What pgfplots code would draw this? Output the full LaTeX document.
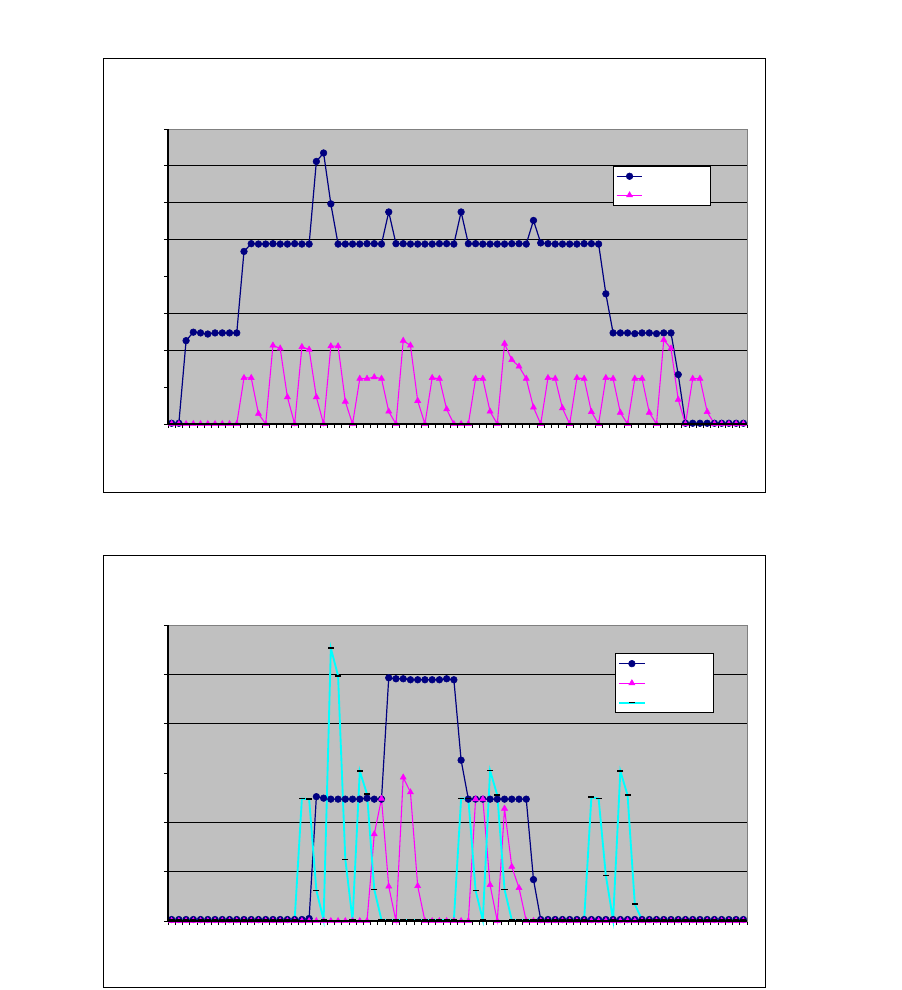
\documentclass[border=0pt]{standalone}
\usepackage{pgfplots}
\pgfplotsset{compat=1.18}
\definecolor{plotbg}{RGB}{192,192,192}
\definecolor{xnavy}{RGB}{0,0,128}
\definecolor{xmag}{RGB}{255,0,255}
\definecolor{xcyan}{RGB}{0,255,255}
\definecolor{xborder}{RGB}{128,128,128}
\pgfplotsset{
  excelax/.style={
    scale only axis,
    width=434.25pt,
    xmin=-0.5, xmax=79.5,
    ymin=0,
    axis background/.style={fill=plotbg},
    axis line style={draw=xborder, line width=0.6pt},
    tick pos=left,
    xtick={-0.5,0.5,...,79.5},
    xticklabels={}, yticklabels={},
    tick align=outside,
    major tick length=3pt,
    tick style={black, line width=0.6pt},
    extra y tick labels={},
    extra y tick style={grid=major, major tick length=0pt},
    major grid style={black, line width=0.8pt},
    clip=false,
    legend cell align=left,
    legend image code/.code={\draw[mark repeat=2,mark phase=2] plot coordinates {(0cm,0cm) (0.34cm,0cm) (0.68cm,0cm)};},
    after end axis/.code={\draw[black, line width=0.8pt] (rel axis cs:0,1) -- (rel axis cs:0,0) -- (rel axis cs:1,0);},
  },
  sblue/.style={color=xnavy, line width=0.9pt, mark=*, mark size=2.5pt, mark options={fill=xnavy, draw=xnavy, line width=0.4pt}},
  smag/.style={color=xmag, line width=0.8pt, mark=triangle*, mark size=2.6pt, mark options={fill=xmag, draw=xmag, line width=0.4pt}},
  scyan/.style={color=xcyan, line width=1.4pt, mark=-, mark size=2.3pt, mark options={draw=black, line width=1.1pt}},
}
\newcommand{\lgent}{\hspace*{48.5pt}}
\begin{document}
\begin{tikzpicture}
\path (0,0) rectangle (675.75pt,742.5pt);
\draw[black, line width=0.75pt, fill=white] (77.25pt,372.75pt) rectangle (573.75pt,698.25pt);
\draw[black, line width=0.75pt, fill=white] (77.25pt,1.5pt) rectangle (573.75pt,325.5pt);
% top chart
\begin{axis}[excelax,
  at={(126pt,424.5pt)}, anchor=south west,
  height=221.25pt,
  ymax=8, ytick={0,...,8},
  extra y ticks={2,3,5,6,7},
  legend style={at={(0.7686,0.8746)}, anchor=north west, draw=black, fill=white, line width=0.6pt,
    inner xsep=2pt, inner ysep=0.3pt, row sep=0pt, nodes={inner sep=0pt, text height=8.6pt, text depth=5.6pt}},
]
\addplot[sblue] coordinates {
(0,0.02)(1,0.02)(2,2.26)(3,2.49)(4,2.47)(5,2.44)(6,2.47)(7,2.47)(8,2.47)(9,2.47)
(10,4.68)(11,4.89)(12,4.88)(13,4.88)(14,4.89)(15,4.88)(16,4.88)(17,4.89)(18,4.88)(19,4.88)
(20,7.12)(21,7.35)(22,5.97)(23,4.88)(24,4.88)(25,4.88)(26,4.88)(27,4.89)(28,4.89)(29,4.88)
(30,5.75)(31,4.89)(32,4.89)(33,4.88)(34,4.88)(35,4.88)(36,4.88)(37,4.89)(38,4.89)(39,4.88)
(40,5.75)(41,4.89)(42,4.89)(43,4.88)(44,4.88)(45,4.88)(46,4.88)(47,4.89)(48,4.89)(49,4.88)
(50,5.52)(51,4.91)(52,4.89)(53,4.88)(54,4.88)(55,4.88)(56,4.88)(57,4.89)(58,4.89)(59,4.88)
(60,3.53)(61,2.47)(62,2.47)(63,2.47)(64,2.45)(65,2.47)(66,2.47)(67,2.45)(68,2.47)(69,2.47)
(70,1.34)(71,0.02)(72,0.02)(73,0.02)(74,0.02)(75,0.02)(76,0.02)(77,0.02)(78,0.02)(79,0.02)
};
\addplot[smag] coordinates {
(0,0)(1,0)(2,0)(3,0)(4,0)(5,0)(6,0)(7,0)(8,0)(9,0)
(10,1.25)(11,1.25)(12,0.28)(13,0)(14,2.13)(15,2.05)(16,0.73)(17,0)(18,2.09)(19,2.02)
(20,0.73)(21,0)(22,2.11)(23,2.11)(24,0.61)(25,0)(26,1.23)(27,1.23)(28,1.27)(29,1.23)
(30,0.34)(31,0)(32,2.26)(33,2.13)(34,0.63)(35,0)(36,1.25)(37,1.23)(38,0.40)(39,0)
(40,0)(41,0)(42,1.23)(43,1.23)(44,0.34)(45,0)(46,2.18)(47,1.74)(48,1.56)(49,1.23)
(50,0.45)(51,0)(52,1.25)(53,1.23)(54,0.43)(55,0)(56,1.25)(57,1.23)(58,0.33)(59,0)
(60,1.25)(61,1.23)(62,0.31)(63,0)(64,1.23)(65,1.23)(66,0.31)(67,0)(68,2.28)(69,2.05)
(70,0.66)(71,0)(72,1.23)(73,1.23)(74,0.33)(75,0)(76,0)(77,0)(78,0)(79,0)
};
\legend{\lgent,\lgent}
\end{axis}
% bottom chart
\begin{axis}[excelax,
  at={(126pt,51.75pt)}, anchor=south west,
  height=222pt,
  ymax=6, ytick={0,...,6},
  extra y ticks={1,2,4,5},
  legend style={at={(0.772,0.905)}, anchor=north west, draw=black, fill=white, line width=0.6pt,
    inner xsep=2pt, inner ysep=0.3pt, row sep=0pt, nodes={inner sep=0pt, text height=8.8pt, text depth=5.8pt}},
]
\addplot[sblue] coordinates {
(0,0.03)(1,0.03)(2,0.03)(3,0.03)(4,0.03)(5,0.03)(6,0.03)(7,0.03)(8,0.03)(9,0.03)
(10,0.03)(11,0.03)(12,0.03)(13,0.03)(14,0.03)(15,0.03)(16,0.03)(17,0.03)(18,0.03)(19,0.05)
(20,2.52)(21,2.49)(22,2.47)(23,2.47)(24,2.47)(25,2.47)(26,2.47)(27,2.49)(28,2.47)(29,2.47)
(30,4.93)(31,4.91)(32,4.91)(33,4.89)(34,4.89)(35,4.89)(36,4.89)(37,4.89)(38,4.91)(39,4.89)
(40,3.26)(41,2.47)(42,2.47)(43,2.47)(44,2.47)(45,2.47)(46,2.47)(47,2.47)(48,2.47)(49,2.47)
(50,0.84)(51,0.03)(52,0.03)(53,0.03)(54,0.03)(55,0.03)(56,0.03)(57,0.03)(58,0.03)(59,0.03)
(60,0.03)(61,0.03)(62,0.03)(63,0.03)(64,0.03)(65,0.03)(66,0.03)(67,0.03)(68,0.03)(69,0.03)
(70,0.03)(71,0.03)(72,0.03)(73,0.03)(74,0.03)(75,0.03)(76,0.03)(77,0.03)(78,0.03)(79,0.03)
};
\addplot[smag] coordinates {
(0,0)(1,0)(2,0)(3,0)(4,0)(5,0)(6,0)(7,0)(8,0)(9,0)
(10,0)(11,0)(12,0)(13,0)(14,0)(15,0)(16,0)(17,0)(18,0)(19,0)
(20,0)(21,0)(22,0)(23,0)(24,0)(25,0)(26,0)(27,0)(28,1.76)(29,2.48)
(30,0.70)(31,0)(32,2.91)(33,2.61)(34,0.71)(35,0)(36,0)(37,0)(38,0)(39,0)
(40,0)(41,0)(42,2.47)(43,2.47)(44,0.73)(45,0)(46,2.28)(47,1.10)(48,0.67)(49,0)
(50,0)(51,0)(52,0)(53,0)(54,0)(55,0)(56,0)(57,0)(58,0)(59,0)
(60,0)(61,0)(62,0)(63,0)(64,0)(65,0)(66,0)(67,0)(68,0)(69,0)
(70,0)(71,0)(72,0)(73,0)(74,0)(75,0)(76,0)(77,0)(78,0)(79,0)
};
\addplot[scyan] coordinates {
(0,0.02)(1,0.02)(2,0.02)(3,0.02)(4,0.02)(5,0.02)(6,0.02)(7,0.02)(8,0.02)(9,0.02)
(10,0.02)(11,0.02)(12,0.02)(13,0.02)(14,0.02)(15,0.02)(16,0.02)(17,0.02)(18,2.48)(19,2.47)
(20,0.62)(21,0.02)(22,5.53)(23,4.97)(24,1.25)(25,0.02)(26,3.04)(27,2.57)(28,0.64)(29,0.02)
(30,0.02)(31,0.02)(32,0.02)(33,0.02)(34,0.02)(35,0.02)(36,0.02)(37,0.02)(38,0.02)(39,0.02)
(40,2.48)(41,2.48)(42,0.62)(43,0.02)(44,3.05)(45,2.55)(46,0.64)(47,0.02)(48,0.02)(49,0.02)
(50,0.02)(51,0.02)(52,0.02)(53,0.02)(54,0.02)(55,0.02)(56,0.02)(57,0.02)(58,2.51)(59,2.48)
(60,0.92)(61,0.02)(62,3.04)(63,2.55)(64,0.34)(65,0.02)(66,0.02)(67,0.02)(68,0.02)(69,0.02)
(70,0.02)(71,0.02)(72,0.02)(73,0.02)(74,0.02)(75,0.02)(76,0.02)(77,0.02)(78,0.02)(79,0.02)
};
\legend{\lgent,\lgent,\lgent}
\end{axis}
\end{tikzpicture}
\end{document}
